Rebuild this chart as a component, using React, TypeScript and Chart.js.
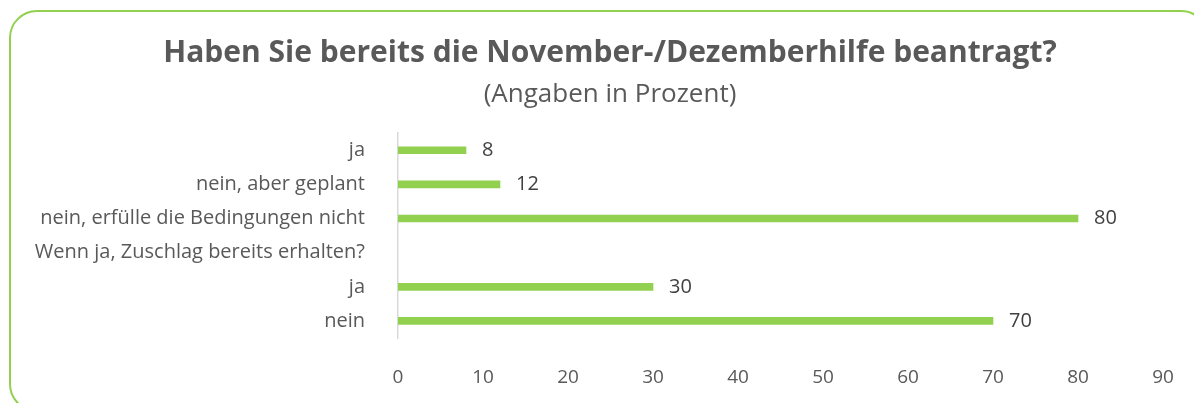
import React, { useEffect, useRef } from "react";
import { Chart, registerables } from "chart.js";

Chart.register(...registerables);

const categories = [
  "ja",
  "nein, aber geplant",
  "nein, erfülle die Bedingungen nicht",
  "Wenn ja, Zuschlag bereits erhalten?",
  "ja",
  "nein",
];
const values: (number | null)[] = [8, 12, 80, null, 30, 70];
const xTicks = [0, 10, 20, 30, 40, 50, 60, 70, 80, 90];

const titleText = "Haben Sie bereits die November-/Dezemberhilfe beantragt?";
const subtitleText = "(Angaben in Prozent)";

const FONT = "'Open Sans', 'Noto Sans', sans-serif";
const GREEN = "#92d050";

const valueLabels = {
  id: "valueLabels",
  afterDatasetsDraw(chart: any) {
    const ctx = chart.ctx;
    const meta = chart.getDatasetMeta(0);
    ctx.save();
    ctx.font = `20px ${FONT}`;
    ctx.fillStyle = "#404040";
    ctx.textAlign = "left";
    ctx.textBaseline = "middle";
    meta.data.forEach((bar: any, i: number) => {
      const v = values[i];
      if (v === null || v === undefined) return;
      ctx.fillText(String(v), bar.x + 16, bar.y);
    });
    ctx.restore();
  },
};

// let the category labels use the full left margin (the layout padding is only there to centre the title)
const widenLabelArea = {
  id: "widenLabelArea",
  afterLayout(chart: any) {
    const y = chart.scales.y;
    if (y) y.left = 0;
  },
};

export default function App() {
  const ref = useRef<HTMLCanvasElement>(null);
  useEffect(() => {
    if (!ref.current) return;
    const chart = new Chart(ref.current, {
      type: "bar",
      data: {
        labels: categories,
        datasets: [
          {
            data: values,
            backgroundColor: GREEN,
            borderWidth: 0,
            barThickness: 7,
          },
        ],
      },
      options: {
        indexAxis: "y",
        animation: false,
        responsive: false,
        maintainAspectRatio: false,
        layout: { padding: { left: 49, right: 39, top: 0, bottom: 0 } },
        plugins: {
          legend: { display: false },
          tooltip: { enabled: false },
          title: {
            display: true,
            text: titleText,
            color: "#595959",
            font: { family: FONT, size: 30, weight: "bold" },
            padding: { top: 27, bottom: 5 },
          },
          subtitle: {
            display: true,
            text: subtitleText,
            color: "#595959",
            font: { family: FONT, size: 26, weight: "normal" },
            padding: { top: 3, bottom: 23 },
          },
        },
        scales: {
          x: {
            type: "linear",
            min: 0,
            max: 90,
            afterBuildTicks: (s: any) => {
              s.ticks = xTicks.map((v) => ({ value: v }));
            },
            afterFit: (s: any) => {
              s.height = 65;
            },
            grid: { display: false, drawTicks: false },
            border: { display: false },
            ticks: {
              color: "#595959",
              font: { family: FONT, size: 19 },
              padding: 28,
            },
          },
          y: {
            afterFit: (s: any) => {
              s.width = 341;
            },
            grid: { display: false, drawTicks: false },
            border: { display: true, color: "#d9d9d9", width: 1.5 },
            ticks: {
              color: "#595959",
              font: { family: FONT, size: 20 },
              padding: 33,
              autoSkip: false,
            },
          },
        },
      },
      plugins: [valueLabels, widenLabelArea],
    });
    return () => chart.destroy();
  }, []);

  return (
    <div style={{ position: "relative", width: 1194, height: 395, overflow: "hidden" }}>
      <div
        style={{
          position: "absolute",
          left: 1,
          top: 2,
          width: 1200,
          height: 402,
          border: `2px solid ${GREEN}`,
          borderRadius: 28,
          boxSizing: "border-box",
        }}
      />
      <canvas
        ref={ref}
        width={1194}
        height={395}
        style={{ position: "absolute", left: 0, top: 0, width: 1194, height: 395 }}
      />
    </div>
  );
}
